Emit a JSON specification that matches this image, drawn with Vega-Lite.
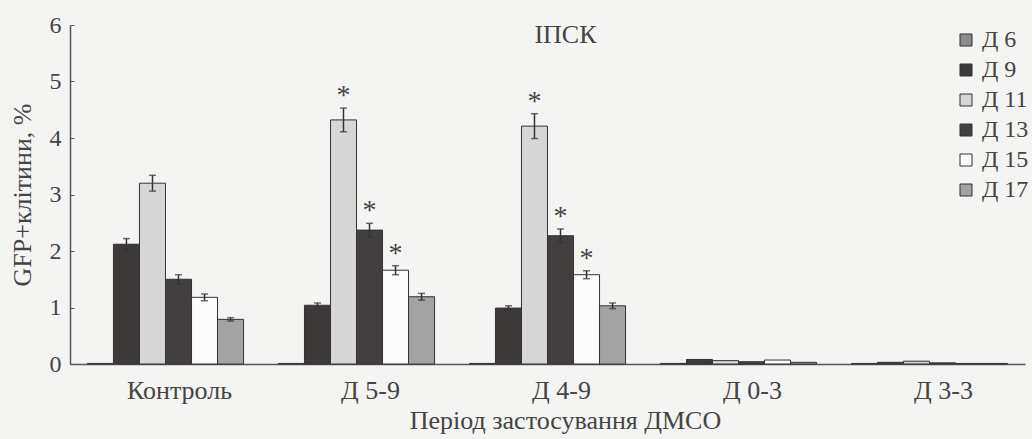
{
  "$schema": "https://vega.github.io/schema/vega-lite/v6.json",
  "width": 955,
  "height": 339,
  "autosize": {"type": "none"},
  "padding": {"left": 70, "top": 25, "right": 7, "bottom": 75},
  "background": "#f4f4f2",
  "config": {
    "font": "Liberation Serif",
    "view": {"stroke": null},
    "axis": {"grid": false, "labelFont": "Liberation Serif", "titleFont": "Liberation Serif", "labelColor": "#444", "titleColor": "#444", "titleFontWeight": "normal", "domainColor": "#555", "tickColor": "#555"}
  },
  "title": {"text": "ІПСК", "fontSize": 26, "fontWeight": "normal", "color": "#444", "font": "Liberation Serif", "anchor": "middle", "dx": 18, "offset": -35, "baseline": "top"},
  "data": {"values": [
    {"group": "Контроль", "series": "Д 6", "value": 0.01, "err": 0, "sig": false},
    {"group": "Контроль", "series": "Д 9", "value": 2.12, "err": 0.1, "sig": false},
    {"group": "Контроль", "series": "Д 11", "value": 3.2, "err": 0.14, "sig": false},
    {"group": "Контроль", "series": "Д 13", "value": 1.5, "err": 0.08, "sig": false},
    {"group": "Контроль", "series": "Д 15", "value": 1.18, "err": 0.06, "sig": false},
    {"group": "Контроль", "series": "Д 17", "value": 0.79, "err": 0.03, "sig": false},
    {"group": "Д 5-9", "series": "Д 6", "value": 0.01, "err": 0, "sig": false},
    {"group": "Д 5-9", "series": "Д 9", "value": 1.04, "err": 0.04, "sig": false},
    {"group": "Д 5-9", "series": "Д 11", "value": 4.32, "err": 0.21, "sig": true},
    {"group": "Д 5-9", "series": "Д 13", "value": 2.37, "err": 0.12, "sig": true},
    {"group": "Д 5-9", "series": "Д 15", "value": 1.66, "err": 0.08, "sig": true},
    {"group": "Д 5-9", "series": "Д 17", "value": 1.19, "err": 0.06, "sig": false},
    {"group": "Д 4-9", "series": "Д 6", "value": 0.01, "err": 0, "sig": false},
    {"group": "Д 4-9", "series": "Д 9", "value": 0.99, "err": 0.04, "sig": false},
    {"group": "Д 4-9", "series": "Д 11", "value": 4.21, "err": 0.22, "sig": true},
    {"group": "Д 4-9", "series": "Д 13", "value": 2.27, "err": 0.12, "sig": true},
    {"group": "Д 4-9", "series": "Д 15", "value": 1.58, "err": 0.07, "sig": true},
    {"group": "Д 4-9", "series": "Д 17", "value": 1.03, "err": 0.05, "sig": false},
    {"group": "Д 0-3", "series": "Д 6", "value": 0.01, "err": 0, "sig": false},
    {"group": "Д 0-3", "series": "Д 9", "value": 0.08, "err": 0, "sig": false},
    {"group": "Д 0-3", "series": "Д 11", "value": 0.06, "err": 0, "sig": false},
    {"group": "Д 0-3", "series": "Д 13", "value": 0.04, "err": 0, "sig": false},
    {"group": "Д 0-3", "series": "Д 15", "value": 0.07, "err": 0, "sig": false},
    {"group": "Д 0-3", "series": "Д 17", "value": 0.03, "err": 0, "sig": false},
    {"group": "Д 3-3", "series": "Д 6", "value": 0.01, "err": 0, "sig": false},
    {"group": "Д 3-3", "series": "Д 9", "value": 0.03, "err": 0, "sig": false},
    {"group": "Д 3-3", "series": "Д 11", "value": 0.05, "err": 0, "sig": false},
    {"group": "Д 3-3", "series": "Д 13", "value": 0.02, "err": 0, "sig": false},
    {"group": "Д 3-3", "series": "Д 15", "value": 0.01, "err": 0, "sig": false},
    {"group": "Д 3-3", "series": "Д 17", "value": 0.01, "err": 0, "sig": false}
  ]},
  "transform": [
    {"calculate": "datum.value - datum.err", "as": "lo"},
    {"calculate": "datum.value + datum.err", "as": "hi"}
  ],
  "encoding": {
    "x": {"field": "group", "type": "nominal", "sort": ["Контроль", "Д 5-9", "Д 4-9", "Д 0-3", "Д 3-3"],
      "scale": {"paddingInner": 0, "paddingOuter": 0},
      "axis": {"title": "Період застосування ДМСО", "labelAngle": 0, "ticks": false, "domainWidth": 1.5, "labelFontSize": 26, "labelPadding": 13, "labelOffset": 14, "titleFontSize": 26, "titlePadding": 4, "titleX": 495}},
    "xOffset": {"field": "series", "type": "nominal", "sort": ["Д 6", "Д 9", "Д 11", "Д 13", "Д 15", "Д 17"],
      "scale": {"paddingInner": 0, "paddingOuter": 0.67}}
  },
  "layer": [
    {
      "mark": {"type": "bar", "stroke": "#333", "strokeWidth": 1},
      "encoding": {
        "y": {"field": "value", "type": "quantitative", "title": "GFP+клітини, %", "scale": {"domain": [0, 6]},
          "axis": {"values": [0, 1, 2, 3, 4, 5, 6], "format": "d", "tickSize": -4, "domainWidth": 1.5, "labelFontSize": 24, "labelPadding": 13, "titleFontSize": 26, "titlePadding": 14}},
        "color": {"field": "series", "type": "nominal",
          "scale": {"domain": ["Д 6", "Д 9", "Д 11", "Д 13", "Д 15", "Д 17"], "range": ["#8c8c8c", "#3d3939", "#d6d6d6", "#433f3f", "#fbfbfb", "#a3a3a3"]},
          "legend": {"orient": "none", "legendX": 884, "legendY": 3, "title": null, "symbolType": "square", "symbolSize": 144, "symbolStrokeColor": "#333", "symbolStrokeWidth": 1, "symbolOpacity": 1, "labelFontSize": 24, "labelColor": "#444", "labelFont": "Liberation Serif", "rowPadding": 6, "labelOffset": 4}}
      }
    },
    {
      "transform": [{"filter": "datum.err > 0"}],
      "mark": {"type": "rule", "color": "#333", "strokeWidth": 1.5},
      "encoding": {
        "y": {"field": "lo", "type": "quantitative", "title": "GFP+клітини, %"},
        "y2": {"field": "hi"}
      }
    },
    {
      "transform": [{"filter": "datum.err > 0"}],
      "mark": {"type": "tick", "color": "#333", "size": 7, "thickness": 1.5},
      "encoding": {"y": {"field": "hi", "type": "quantitative", "title": "GFP+клітини, %"}}
    },
    {
      "transform": [{"filter": "datum.err > 0"}],
      "mark": {"type": "tick", "color": "#333", "size": 7, "thickness": 1.5},
      "encoding": {"y": {"field": "lo", "type": "quantitative", "title": "GFP+клітини, %"}}
    },
    {
      "transform": [{"filter": "datum.sig"}],
      "mark": {"type": "text", "text": "*", "fontSize": 28, "color": "#444", "baseline": "middle", "dy": -12},
      "encoding": {"y": {"field": "hi", "type": "quantitative", "title": "GFP+клітини, %"}}
    }
  ]
}
